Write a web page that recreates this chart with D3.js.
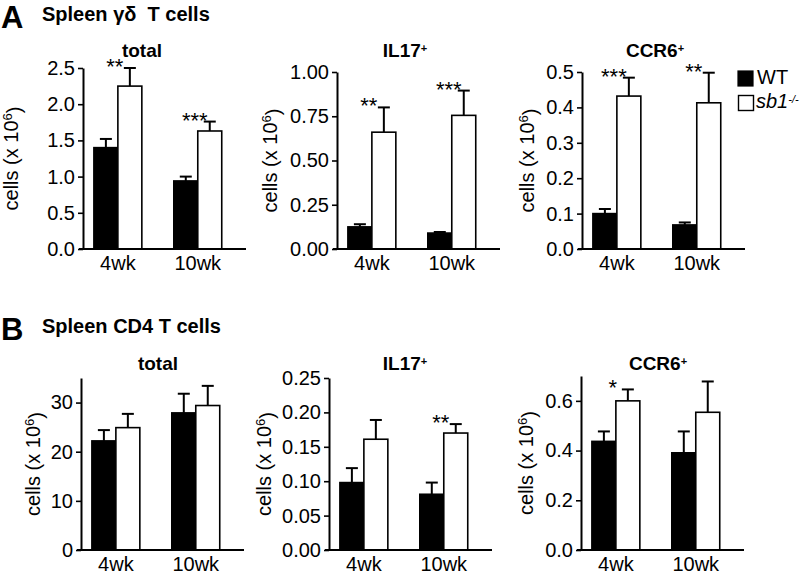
<!DOCTYPE html>
<html>
<head>
<meta charset="utf-8">
<script src="https://cdn.jsdelivr.net/npm/d3@7"></script>
<style>
body{margin:0;background:#fff}
svg text{font-family:"Liberation Sans",Arial,sans-serif;fill:#000}
</style>
</head>
<body>
<script>
const ages = ['4wk','10wk']
const genotypes = ['WT','sb1']

// A: spleen gamma delta T cells
const gdTotalWT = [1.40, 0.94]
const gdTotalWTErr = [0.12, 0.06]
const gdTotalKO = [2.25, 1.63]
const gdTotalKOErr = [0.25, 0.13]
const gdTotalStars = ['**','***']

const gdIL17WT = [0.125, 0.090]
const gdIL17WTErr = [0.015, 0.006]
const gdIL17KO = [0.66, 0.755]
const gdIL17KOErr = [0.14, 0.14]
const gdIL17Stars = ['**','***']

const gdCCR6WT = [0.100, 0.068]
const gdCCR6WTErr = [0.013, 0.007]
const gdCCR6KO = [0.432, 0.413]
const gdCCR6KOErr = [0.052, 0.085]
const gdCCR6Stars = ['***','**']

// B: spleen CD4 T cells
const cd4TotalWT = [22.2, 27.9]
const cd4TotalWTErr = [2.2, 3.9]
const cd4TotalKO = [24.9, 29.4]
const cd4TotalKOErr = [2.8, 4.0]
const cd4TotalStars = ['','']

const cd4IL17WT = [0.098, 0.081]
const cd4IL17WTErr = [0.021, 0.017]
const cd4IL17KO = [0.161, 0.170]
const cd4IL17KOErr = [0.028, 0.013]
const cd4IL17Stars = ['','**']

const cd4CCR6WT = [0.437, 0.391]
const cd4CCR6WTErr = [0.040, 0.086]
const cd4CCR6KO = [0.600, 0.554]
const cd4CCR6KOErr = [0.046, 0.124]
const cd4CCR6Stars = ['*','']

// y axis ticks
const ticksGdTotal = [0, 0.5, 1.0, 1.5, 2.0, 2.5]
const ticksGdIL17 = [0, 0.25, 0.5, 0.75, 1.0]
const ticksGdCCR6 = [0, 0.1, 0.2, 0.3, 0.4, 0.5]
const ticksCd4Total = [0, 10, 20, 30]
const ticksCd4IL17 = [0, 0.05, 0.1, 0.15, 0.2, 0.25]
const ticksCd4CCR6 = [0, 0.2, 0.4, 0.6]

const panels = [
  {title:'total', sup:'', wt:gdTotalWT, wtErr:gdTotalWTErr, ko:gdTotalKO, koErr:gdTotalKOErr, stars:gdTotalStars, max:2.5, ticks:ticksGdTotal, fmt:'.1f'},
  {title:'IL17', sup:'+', wt:gdIL17WT, wtErr:gdIL17WTErr, ko:gdIL17KO, koErr:gdIL17KOErr, stars:gdIL17Stars, max:1.0, ticks:ticksGdIL17, fmt:'.2f'},
  {title:'CCR6', sup:'+', wt:gdCCR6WT, wtErr:gdCCR6WTErr, ko:gdCCR6KO, koErr:gdCCR6KOErr, stars:gdCCR6Stars, max:0.5, ticks:ticksGdCCR6, fmt:'.1f'},
  {title:'total', sup:'', wt:cd4TotalWT, wtErr:cd4TotalWTErr, ko:cd4TotalKO, koErr:cd4TotalKOErr, stars:cd4TotalStars, max:35, ticks:ticksCd4Total, fmt:'d'},
  {title:'IL17', sup:'+', wt:cd4IL17WT, wtErr:cd4IL17WTErr, ko:cd4IL17KO, koErr:cd4IL17KOErr, stars:cd4IL17Stars, max:0.25, ticks:ticksCd4IL17, fmt:'.2f'},
  {title:'CCR6', sup:'+', wt:cd4CCR6WT, wtErr:cd4CCR6WTErr, ko:cd4CCR6KO, koErr:cd4CCR6KOErr, stars:cd4CCR6Stars, max:0.7, ticks:ticksCd4CCR6, fmt:'.1f'}
]

// where each panel sits on the page
const layout = [
  {x:83, top:68, bottom:249, labelX:11, titleX:142, titleY:57},
  {x:337, top:72, bottom:249, labelX:270, titleX:405, titleY:57},
  {x:582, top:72, bottom:249, labelX:527, titleX:655, titleY:57},
  {x:81, top:378, bottom:550, labelX:33, titleX:158, titleY:370},
  {x:329, top:378, bottom:550, labelX:264, titleX:405, titleY:370},
  {x:581, top:376, bottom:550, labelX:526, titleX:658, titleY:370}
]

const width = 800
const height = 574
const plotWidth = 163

const svg = d3.select('body').append('svg').attr('width', width).attr('height', height)

// row headings
const heading = (y, letter, text) => {
  svg.append('text').attr('x', 1).attr('y', y + 7).text(letter)
    .style('font-size', '31px').style('font-weight', 'bold')
  svg.append('text').attr('x', 42).attr('y', y).text(text)
    .style('font-size', '20px').style('font-weight', 'bold').style('white-space', 'pre')
}
heading(21, 'A', 'Spleen \u03b3\u03b4  T cells')
heading(333, 'B', 'Spleen CD4 T cells')

const drawPanel = (p, l) => {
  const g = svg.append('g').attr('transform', `translate(${l.x},0)`)

  const x = d3.scaleBand().domain(ages).range([0, plotWidth])
    .paddingInner(0.4).paddingOuter(0.22).align(0.31)
  const xs = d3.scaleBand().domain(genotypes).range([0, x.bandwidth()])
  const y = d3.scaleLinear().domain([0, p.max]).range([l.bottom, l.top])

  const rows = ages.map((a, i) => ({age:a, i:i}))

  // bars with upper error bars
  rows.forEach(r => {
    const vals = [
      {k:'WT', v:p.wt[r.i], e:p.wtErr[r.i], fill:'#000'},
      {k:'sb1', v:p.ko[r.i], e:p.koErr[r.i], fill:'#fff'}
    ]
    vals.forEach(d => {
      const bx = x(r.age) + xs(d.k)
      const cx = bx + xs.bandwidth() / 2
      g.append('line')
        .attr('x1', cx).attr('x2', cx)
        .attr('y1', y(d.v)).attr('y2', y(d.v + d.e))
        .attr('stroke', '#000').attr('stroke-width', 2)
      g.append('line')
        .attr('x1', cx - 6).attr('x2', cx + 6)
        .attr('y1', y(d.v + d.e)).attr('y2', y(d.v + d.e))
        .attr('stroke', '#000').attr('stroke-width', 2)
      g.append('rect')
        .attr('x', bx).attr('y', y(d.v))
        .attr('width', xs.bandwidth()).attr('height', y(0) - y(d.v))
        .attr('fill', d.fill).attr('stroke', '#000').attr('stroke-width', 1.6)
    })
    if (p.stars[r.i]) {
      const top = y(p.ko[r.i] + p.koErr[r.i])
      g.append('text')
        .attr('x', x(r.age) + x.bandwidth() / 2 - 3)
        .attr('y', top + 6)
        .attr('text-anchor', 'middle')
        .style('font-size', '22px')
        .text(p.stars[r.i])
    }
  })

  // y axis
  const yAxis = d3.axisLeft(y).tickValues(p.ticks).tickFormat(d3.format(p.fmt))
    .tickSize(5).tickPadding(3).tickSizeOuter(0)
  const ya = g.append('g').call(yAxis)
  ya.select('.domain').attr('stroke-width', 2)
  ya.selectAll('.tick line').attr('stroke-width', 1.6)
  ya.selectAll('text').style('font-size', '20px').attr('fill', '#000')

  // x axis
  const xAxis = d3.axisBottom(x).tickSize(0).tickPadding(7).tickSizeOuter(0)
  const xa = g.append('g').attr('transform', `translate(0,${l.bottom})`).call(xAxis)
  xa.select('.domain').attr('d', `M-4,0H${plotWidth}`).attr('stroke-width', 2)
  xa.selectAll('text').style('font-size', '20px').attr('fill', '#000')

  // y label
  const lab = svg.append('text')
    .attr('transform', `translate(${l.labelX},${(l.top + l.bottom) / 2}) rotate(-90)`)
    .attr('dy', '0.35em')
    .attr('text-anchor', 'middle')
    .style('font-size', '20px')
  lab.append('tspan').text('cells (x 10')
  lab.append('tspan').text('6').attr('dy', '-0.45em').style('font-size', '13px')
  lab.append('tspan').text(')').attr('dy', '0.45em')

  // panel title
  const t = svg.append('text')
    .attr('x', l.titleX).attr('y', l.titleY)
    .attr('text-anchor', 'middle')
    .style('font-size', '19px').style('font-weight', 'bold')
  t.append('tspan').text(p.title)
  if (p.sup) t.append('tspan').text(p.sup).attr('dy', '-0.5em').style('font-size', '11px')
}

panels.forEach((p, i) => drawPanel(p, layout[i]))

// legend
const legend = svg.append('g').attr('id', 'legend')
legend.append('rect').attr('x', 738).attr('y', 71).attr('width', 15).attr('height', 15)
  .attr('fill', '#000').attr('stroke', '#000').attr('stroke-width', 1.2)
legend.append('rect').attr('x', 738.5).attr('y', 95.5).attr('width', 15).attr('height', 15)
  .attr('fill', '#fff').attr('stroke', '#000').attr('stroke-width', 1.4)
legend.append('text').attr('x', 757).attr('y', 84).style('font-size', '20px').text('WT')
const ko = legend.append('text').attr('x', 756).attr('y', 108).style('font-size', '20px')
ko.append('tspan').text('sb1').style('font-style', 'italic')
ko.append('tspan').text('-/-').attr('dy', '-0.45em').style('font-size', '11px').style('font-style', 'italic')
</script>
</body>
</html>
